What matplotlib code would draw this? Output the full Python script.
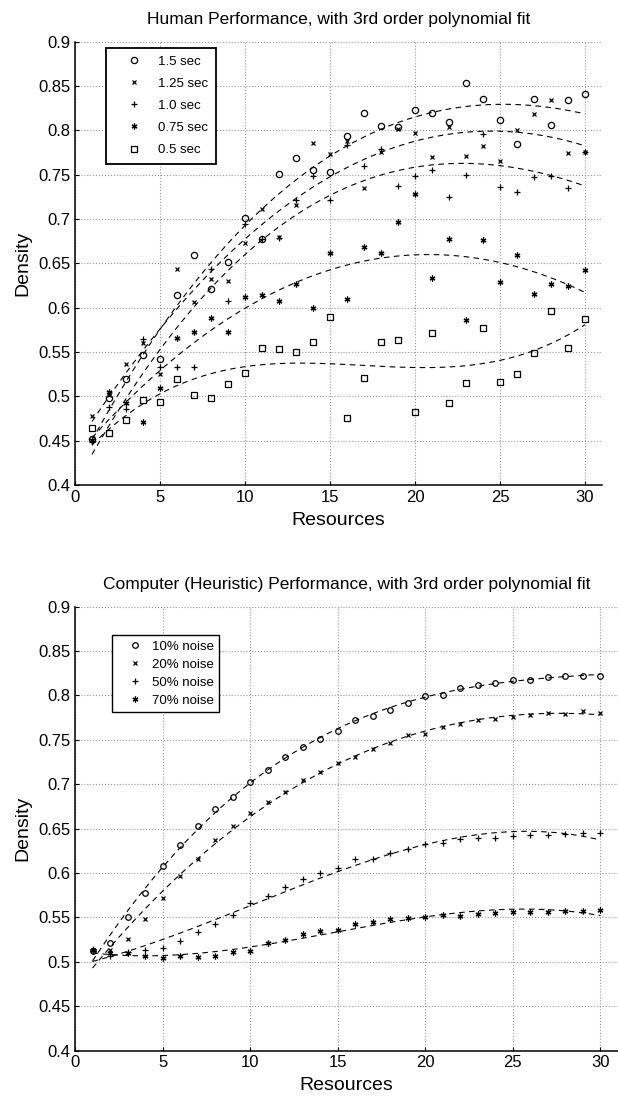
import numpy as np
import matplotlib
matplotlib.use("Agg")
import matplotlib.pyplot as plt

plt.rcParams['font.family'] = ['Liberation Sans', 'DejaVu Sans']

resources = np.arange(1, 31)

# human performance (density) by time limit
human_15 = [0.452, 0.498, 0.519, 0.547, 0.542, 0.614, 0.660, 0.621, 0.651, 0.701,
            0.677, 0.751, 0.769, 0.755, 0.753, 0.794, 0.820, 0.805, 0.804, 0.823,
            0.820, 0.810, 0.854, 0.835, 0.812, 0.785, 0.835, 0.806, 0.834, 0.841]
human_125 = [0.478, 0.502, 0.536, 0.560, 0.525, 0.644, 0.606, 0.632, 0.630, 0.673,
             0.711, 0.680, 0.716, 0.786, 0.773, 0.788, 0.735, 0.776, 0.802, 0.797,
             0.770, 0.804, 0.771, 0.782, 0.765, 0.800, 0.818, 0.834, 0.775, 0.776]
human_10 = [0.449, 0.488, 0.486, 0.565, 0.533, 0.533, 0.533, 0.644, 0.607, 0.694,
            0.678, 0.679, 0.722, 0.749, 0.722, 0.784, 0.760, 0.779, 0.737, 0.748,
            0.755, 0.725, 0.750, 0.796, 0.736, 0.730, 0.747, 0.748, 0.735, 0.776]
human_075 = [0.451, 0.505, 0.492, 0.471, 0.509, 0.566, 0.573, 0.588, 0.573, 0.612,
             0.614, 0.607, 0.627, 0.600, 0.662, 0.610, 0.669, 0.662, 0.697, 0.728,
             0.634, 0.677, 0.586, 0.676, 0.629, 0.660, 0.615, 0.627, 0.625, 0.642]
human_05 = [0.464, 0.459, 0.473, 0.496, 0.494, 0.520, 0.502, 0.498, 0.514, 0.526,
            0.555, 0.553, 0.550, 0.561, 0.589, 0.475, 0.521, 0.561, 0.563, 0.482,
            0.572, 0.493, 0.515, 0.577, 0.516, 0.525, 0.549, 0.596, 0.555, 0.587]

# computer (heuristic) performance by noise level
comp_10 = [0.512, 0.521, 0.550, 0.578, 0.608, 0.631, 0.653, 0.672, 0.686, 0.702,
           0.716, 0.731, 0.742, 0.751, 0.760, 0.772, 0.777, 0.784, 0.792, 0.799,
           0.801, 0.808, 0.812, 0.814, 0.818, 0.818, 0.821, 0.822, 0.822, 0.822]
comp_20 = [0.513, 0.513, 0.526, 0.548, 0.572, 0.597, 0.616, 0.637, 0.653, 0.668,
           0.680, 0.691, 0.705, 0.714, 0.724, 0.731, 0.740, 0.747, 0.755, 0.757,
           0.765, 0.768, 0.772, 0.773, 0.776, 0.778, 0.780, 0.779, 0.782, 0.780]
comp_50 = [0.514, 0.507, 0.511, 0.513, 0.516, 0.523, 0.534, 0.542, 0.553, 0.566,
           0.574, 0.584, 0.593, 0.600, 0.606, 0.616, 0.616, 0.623, 0.627, 0.633,
           0.634, 0.638, 0.639, 0.639, 0.642, 0.643, 0.643, 0.644, 0.645, 0.645]
comp_70 = [0.513, 0.510, 0.510, 0.506, 0.504, 0.506, 0.505, 0.506, 0.511, 0.512,
           0.521, 0.524, 0.531, 0.535, 0.536, 0.542, 0.545, 0.548, 0.549, 0.550,
           0.553, 0.552, 0.554, 0.555, 0.556, 0.556, 0.556, 0.557, 0.557, 0.558]

human_labels = ["1.5 sec", "1.25 sec", "1.0 sec", "0.75 sec", "0.5 sec"]
comp_labels = ["10% noise", "20% noise", "50% noise", "70% noise"]

asterisk = (6, 2, 0)
human_markers = [("o", 4.5), ("x", 3.5), ("+", 4.5), (asterisk, 4.2), ("s", 3.8)]
comp_markers = [("o", 4.0), ("x", 3.5), ("+", 4.5), (asterisk, 4.2)]


def draw_panel(ax, series, labels, markers, title):
    xs = np.linspace(1, 30, 200)
    for y, lab, (m, ms) in zip(series, labels, markers):
        ax.plot(resources, y, ls="none", marker=m, ms=ms, mfc="none",
                mec="black", mew=0.9, label=lab)
        coef = np.polyfit(resources, y, 3)
        ax.plot(xs, np.polyval(coef, xs), color="black", lw=0.8, dashes=(5, 4))
    ax.set_xlim(0, 31)
    ax.set_ylim(0.4, 0.9)
    ax.set_xticks(range(0, 31, 5))
    ax.set_yticks(np.arange(0.4, 0.91, 0.05))
    ax.set_yticklabels(["0.4", "0.45", "0.5", "0.55", "0.6", "0.65", "0.7",
                        "0.75", "0.8", "0.85", "0.9"])
    ax.grid(True, color="#999999", ls=":", lw=0.8)
    ax.spines["top"].set_visible(False)
    ax.spines["right"].set_visible(False)
    ax.spines["left"].set_linewidth(1.1)
    ax.spines["bottom"].set_linewidth(1.1)
    ax.tick_params(direction="in", length=3, labelsize=12)
    ax.set_xlabel("Resources", fontsize=14, labelpad=5)
    ax.set_ylabel("Density", fontsize=14, labelpad=5)
    ax.set_title(title, fontsize=12.5, pad=13)


fig = plt.figure(figsize=(6.18, 10.96), dpi=100)
ax1 = fig.add_axes([0.1214, 0.5575, 0.8527, 0.4044])
ax2 = fig.add_axes([0.1214, 0.0415, 0.878, 0.4049])

draw_panel(ax1, [human_15, human_125, human_10, human_075, human_05],
           human_labels, human_markers,
           "Human Performance, with 3rd order polynomial fit")
draw_panel(ax2, [comp_10, comp_20, comp_50, comp_70],
           comp_labels, comp_markers,
           "Computer (Heuristic) Performance, with 3rd order polynomial fit")

leg1 = ax1.legend(loc="upper left", bbox_to_anchor=(0.058, 0.987), fontsize=9.5,
                  borderaxespad=0, borderpad=0.6, labelspacing=0.75,
                  handlelength=3.05, handletextpad=0.3, numpoints=1,
                  fancybox=False, framealpha=1, edgecolor="black")
leg1.get_frame().set_linewidth(1.3)

leg2 = ax2.legend(loc="upper left", bbox_to_anchor=(0.0688, 0.936), fontsize=9.5,
                  borderaxespad=0, borderpad=0.4, labelspacing=0.44,
                  handlelength=2.6, handletextpad=0.0, numpoints=1,
                  fancybox=False, framealpha=1, edgecolor="black")
leg2.get_frame().set_linewidth(1.0)

fig.savefig("out.png", dpi=100)
